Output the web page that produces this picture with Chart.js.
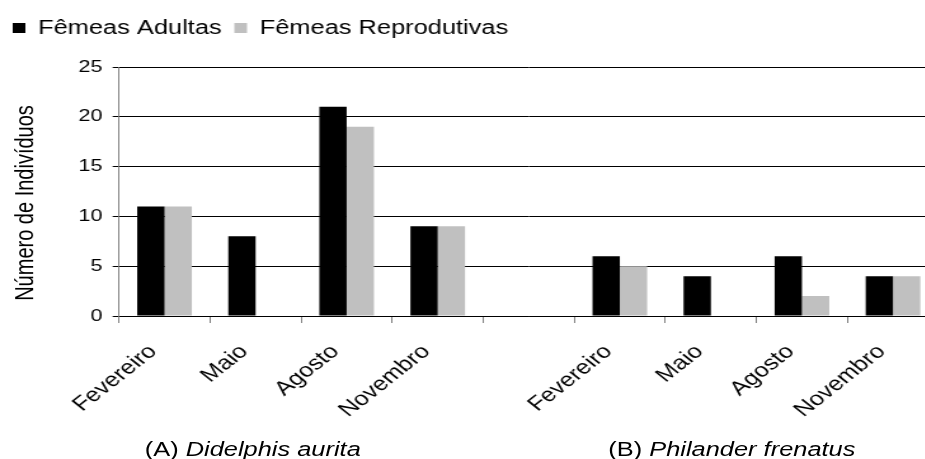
<!DOCTYPE html>
<html>
<head>
<meta charset="utf-8">
<script src="https://cdn.jsdelivr.net/npm/chart.js@4/dist/chart.umd.min.js"></script>
<style>
  body { margin: 0; background: #fff; width: 925px; height: 459px; overflow: hidden; position: relative; }
  /* the original picture is stretched sideways, so the whole chart is too */
  #wrap { position: absolute; left: 0; top: 0; width: 739px; height: 459px; transform: scaleX(1.27); transform-origin: 0 0; }
  .txt { position: absolute; font-family: "Liberation Sans", Arial, sans-serif; font-size: 20px; line-height: 20px; color: #000; white-space: nowrap; }
  #ytitle { left: -110.85px; top: 192.5px; width: 260px; text-align: center; transform: rotate(-90deg); }
</style>
</head>
<body>
<div id="wrap">
  <canvas id="chart"></canvas>
  <div class="txt" id="ytitle">Número de Indivíduos</div>
  <div class="txt" style="left:114px; top:439px">(A) <i>Didelphis aurita</i></div>
  <div class="txt" style="left:479px; top:439px">(B) <i>Philander frenatus</i></div>
</div>
<script>
const months = ['Fevereiro', 'Maio', 'Agosto', 'Novembro'];
const adultasDidelphis = [11, 8, 21, 9];
const reprodutivasDidelphis = [11, 0, 19, 9];
const adultasPhilander = [6, 4, 6, 4];
const reprodutivasPhilander = [5, 0, 2, 4];

// one empty category separates the two species
const labels = months.concat([''], months);
const adultas = adultasDidelphis.concat([null], adultasPhilander);
const reprodutivas = reprodutivasDidelphis.concat([null], reprodutivasPhilander);

const font = 'Liberation Sans, Arial, sans-serif';

// extra room between legend and plot
const legendGap = {
  id: 'legendGap',
  beforeInit(chart) {
    const fit = chart.legend.fit;
    chart.legend.fit = function () {
      fit.bind(chart.legend)();
      this.height += 19;
    };
  }
};

new Chart(document.getElementById('chart'), {
  type: 'bar',
  data: {
    labels: labels,
    datasets: [
      { label: 'Fêmeas Adultas', data: adultas, backgroundColor: '#000000' },
      { label: 'Fêmeas Reprodutivas', data: reprodutivas, backgroundColor: '#c0c0c0' }
    ]
  },
  options: {
    responsive: true,
    maintainAspectRatio: false,
    animation: false,
    layout: { padding: { top: 8, left: 0, right: 0, bottom: 0 } },
    datasets: { bar: { categoryPercentage: 0.6, barPercentage: 1.0 } },
    plugins: {
      legend: {
        position: 'top',
        align: 'start',
        labels: { boxWidth: 10, boxHeight: 10, padding: 10, color: '#000', font: { family: font, size: 20 } }
      },
      tooltip: { enabled: false }
    },
    scales: {
      x: {
        grid: { drawOnChartArea: false, drawTicks: true, tickLength: 7, color: '#808080', offset: true },
        border: { color: '#000', width: 1 },
        ticks: {
          autoSkip: false, minRotation: 45, maxRotation: 45, padding: 17, labelOffset: -9,
          color: '#000', font: { family: font, size: 20 }
        },
        afterFit(scale) { scale.height = 143; }
      },
      y: {
        min: 0,
        max: 25,
        ticks: { stepSize: 5, padding: 8, color: '#000', font: { family: font, size: 17 } },
        grid: { color: '#000', lineWidth: 1, tickLength: 5 },
        border: { color: '#808080', width: 1 },
        afterFit(scale) { scale.width = 93.7; }
      }
    }
  },
  plugins: [legendGap]
});
</script>
</body>
</html>
